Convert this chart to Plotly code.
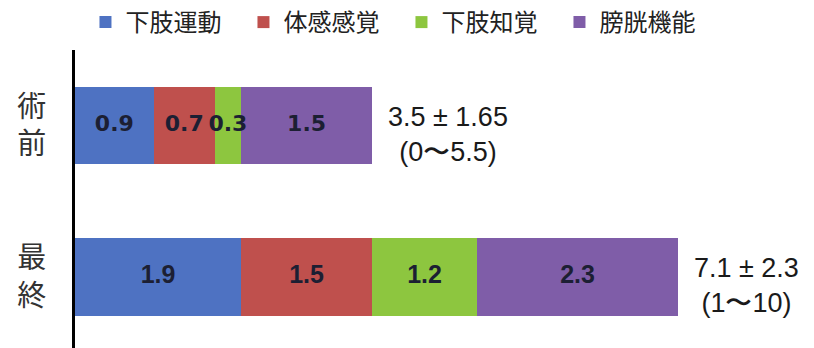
import plotly.graph_objects as go

categories = ["最終", "術前"]
tick_labels = ["最<br>終", "術<br>前"]
series_names = ["下肢運動", "体感感覚", "下肢知覚", "膀胱機能"]
series_colors = ["#4E72C2", "#BF504D", "#8DC63F", "#7F5DA8"]
values_lower_motor = [1.9, 0.9]
values_sensation = [1.5, 0.7]
values_lower_perception = [1.2, 0.3]
values_bladder = [2.3, 1.5]
summary_main = ["7.1 ± 2.3", "3.5 ± 1.65"]
summary_range = ["(1〜10)", "(0〜5.5)"]

series_values = [values_lower_motor, values_sensation, values_lower_perception, values_bladder]

fig = go.Figure()
for name, color, vals in zip(series_names, series_colors, series_values):
    fig.add_trace(go.Bar(
        y=categories, x=vals, name=name, orientation="h",
        marker=dict(color=color, line=dict(width=0)),
        width=0.51, hoverinfo="x+name",
    ))

# value labels drawn on top of all bars (so overflowing text stays visible)
label_fonts = {"最終": dict(family="Liberation Sans", size=25, weight="bold"),
               "術前": dict(family="DejaVu Sans", size=22, weight="bold")}
for i, cat in enumerate(categories):
    mids, texts = [], []
    cum = 0.0
    for vals in series_values:
        mids.append(cum + vals[i] / 2)
        texts.append(f"{vals[i]:g}")
        cum += vals[i]
    fig.add_trace(go.Scatter(
        x=mids, y=[cat] * len(mids), mode="text", text=texts,
        textposition="middle center", showlegend=False, hoverinfo="skip",
        textfont=dict(color="#1c1f33", **label_fonts[cat]),
    ))

totals = [sum(s[i] for s in series_values) for i in range(len(categories))]
for i, cat in enumerate(categories):
    fig.add_annotation(
        x=totals[i], y=cat, xref="x", yref="y",
        text=f"{summary_main[i]}<br>{summary_range[i]}",
        showarrow=False, xanchor="left", align="center",
        xshift=14, yshift=-9,
        font=dict(family="Liberation Sans", size=27, color="#1a1a1a"),
    )

fig.update_layout(
    width=814, height=348,
    margin=dict(l=75, r=0, t=50, b=0),
    barmode="stack",
    plot_bgcolor="white", paper_bgcolor="white",
    showlegend=True,
    legend=dict(
        orientation="h", traceorder="normal",
        xref="container", yref="container",
        x=0.105, y=1.0, xanchor="left", yanchor="top",
        entrywidth=113, entrywidthmode="pixels",
        font=dict(family="Noto Sans CJK JP", size=24, color="#222"),
        itemwidth=30,
    ),
    xaxis=dict(range=[0, 739 / 87.4], showticklabels=False, showgrid=False,
               zeroline=False, showline=False, fixedrange=True),
    yaxis=dict(
        type="category", categoryorder="array", categoryarray=categories,
        range=[-0.469, 1.498],
        tickmode="array", tickvals=categories, ticktext=tick_labels,
        showline=True, linecolor="black", linewidth=3,
        showgrid=False, zeroline=False, ticks="",
        ticklabelstandoff=20,
        tickfont=dict(family="Noto Sans CJK JP", size=29, color="#333"),
    ),
)

fig.write_html("out.html")
